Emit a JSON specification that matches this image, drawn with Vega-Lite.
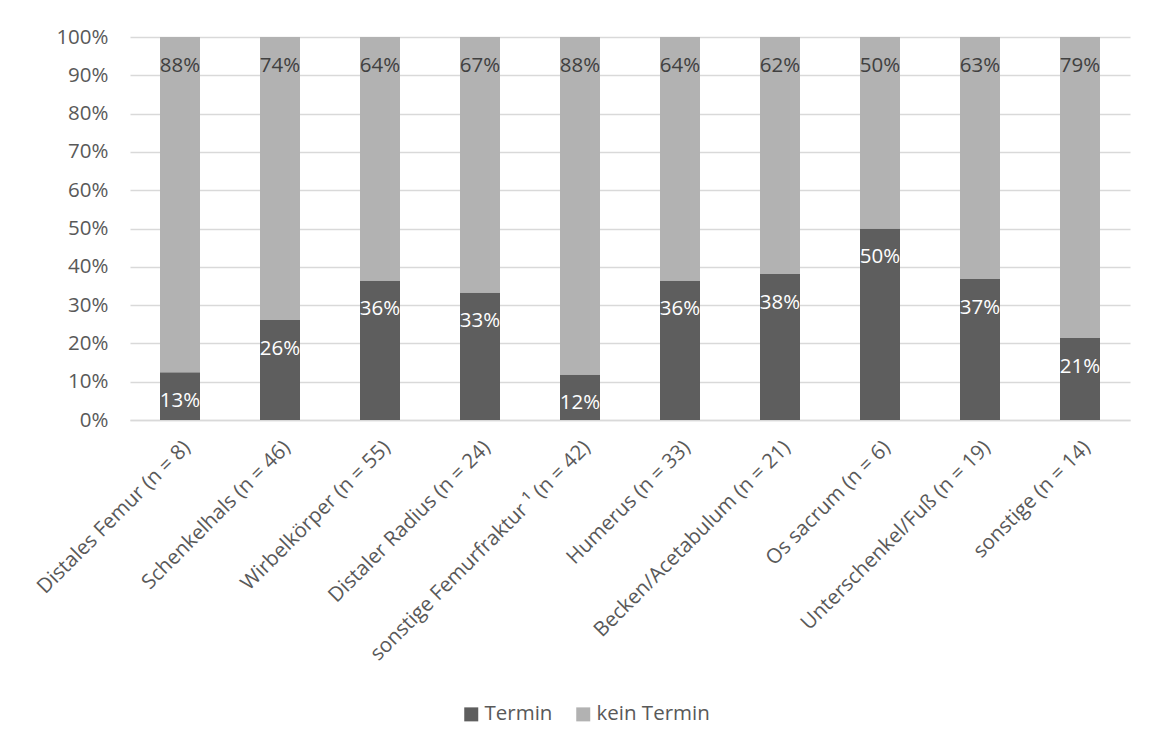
{
  "$schema": "https://vega.github.io/schema/vega-lite/v6.json",
  "width": 1000,
  "height": 383,
  "autosize": {"type": "none"},
  "padding": {"left": 130, "top": 37, "right": 19, "bottom": 324},
  "background": "white",
  "data": {
    "values": [
      {"cat": "Distales Femur (n = 8)", "series": "Termin", "idx": 0, "value": 0.125, "label": "13%"},
      {"cat": "Distales Femur (n = 8)", "series": "kein Termin", "idx": 1, "value": 0.875, "label": "88%"},
      {"cat": "Schenkelhals (n = 46)", "series": "Termin", "idx": 0, "value": 0.261, "label": "26%"},
      {"cat": "Schenkelhals (n = 46)", "series": "kein Termin", "idx": 1, "value": 0.739, "label": "74%"},
      {"cat": "Wirbelkörper (n = 55)", "series": "Termin", "idx": 0, "value": 0.364, "label": "36%"},
      {"cat": "Wirbelkörper (n = 55)", "series": "kein Termin", "idx": 1, "value": 0.636, "label": "64%"},
      {"cat": "Distaler Radius (n = 24)", "series": "Termin", "idx": 0, "value": 0.333, "label": "33%"},
      {"cat": "Distaler Radius (n = 24)", "series": "kein Termin", "idx": 1, "value": 0.667, "label": "67%"},
      {"cat": "sonstige Femurfraktur ¹ (n = 42)", "series": "Termin", "idx": 0, "value": 0.119, "label": "12%"},
      {"cat": "sonstige Femurfraktur ¹ (n = 42)", "series": "kein Termin", "idx": 1, "value": 0.881, "label": "88%"},
      {"cat": "Humerus (n = 33)", "series": "Termin", "idx": 0, "value": 0.364, "label": "36%"},
      {"cat": "Humerus (n = 33)", "series": "kein Termin", "idx": 1, "value": 0.636, "label": "64%"},
      {"cat": "Becken/Acetabulum (n = 21)", "series": "Termin", "idx": 0, "value": 0.381, "label": "38%"},
      {"cat": "Becken/Acetabulum (n = 21)", "series": "kein Termin", "idx": 1, "value": 0.619, "label": "62%"},
      {"cat": "Os sacrum (n = 6)", "series": "Termin", "idx": 0, "value": 0.5, "label": "50%"},
      {"cat": "Os sacrum (n = 6)", "series": "kein Termin", "idx": 1, "value": 0.5, "label": "50%"},
      {"cat": "Unterschenkel/Fuß (n = 19)", "series": "Termin", "idx": 0, "value": 0.368, "label": "37%"},
      {"cat": "Unterschenkel/Fuß (n = 19)", "series": "kein Termin", "idx": 1, "value": 0.632, "label": "63%"},
      {"cat": "sonstige (n = 14)", "series": "Termin", "idx": 0, "value": 0.214, "label": "21%"},
      {"cat": "sonstige (n = 14)", "series": "kein Termin", "idx": 1, "value": 0.786, "label": "79%"}
    ]
  },
  "encoding": {
    "x": {
      "field": "cat",
      "type": "nominal",
      "sort": null,
      "scale": {"paddingInner": 0.6, "paddingOuter": 0.3},
      "axis": {
        "title": null,
        "labelAngle": -45,
        "labelFont": "Open Sans",
        "labelFontSize": 20.5,
        "labelColor": "#595959",
        "labelPadding": 17,
        "labelLimit": 500,
        "ticks": false,
        "domain": true,
        "domainColor": "#d9d9d9",
        "domainWidth": 1.5
      }
    },
    "y": {
      "field": "value",
      "type": "quantitative",
      "stack": "zero",
      "scale": {"domain": [0, 1], "nice": false},
      "axis": {
        "title": null,
        "format": ".0%",
        "values": [0, 0.1, 0.2, 0.3, 0.4, 0.5, 0.6, 0.7, 0.8, 0.9, 1],
        "labelFont": "Open Sans",
        "labelFontSize": 20.5,
        "labelColor": "#595959",
        "labelPadding": 22,
        "ticks": false,
        "domain": false,
        "grid": true,
        "gridColor": "#d9d9d9",
        "gridWidth": 1.5
      }
    },
    "order": {"field": "idx", "type": "quantitative"}
  },
  "layer": [
    {
      "mark": {"type": "bar"},
      "encoding": {
        "color": {
          "field": "series",
          "type": "nominal",
          "sort": ["Termin", "kein Termin"],
          "scale": {"domain": ["Termin", "kein Termin"], "range": ["#5e5e5e", "#b2b2b2"]},
          "legend": {
            "title": null,
            "orient": "none",
            "direction": "horizontal",
            "legendX": 331,
            "legendY": 667,
            "symbolType": "square",
            "symbolSize": 196,
            "symbolStrokeWidth": 0,
            "labelFont": "Open Sans",
            "labelFontSize": 20.5,
            "labelColor": "#595959",
            "labelOffset": 3,
            "columnPadding": 20
          }
        }
      }
    },
    {
      "mark": {"type": "text", "baseline": "middle", "align": "center", "dy": 28.5, "font": "Open Sans", "fontSize": 20.5},
      "encoding": {
        "text": {"field": "label", "type": "nominal"},
        "color": {
          "condition": {"test": "datum.series === 'Termin'", "value": "#ffffff"},
          "value": "#404040"
        }
      }
    }
  ],
  "config": {
    "view": {"stroke": null}
  }
}
